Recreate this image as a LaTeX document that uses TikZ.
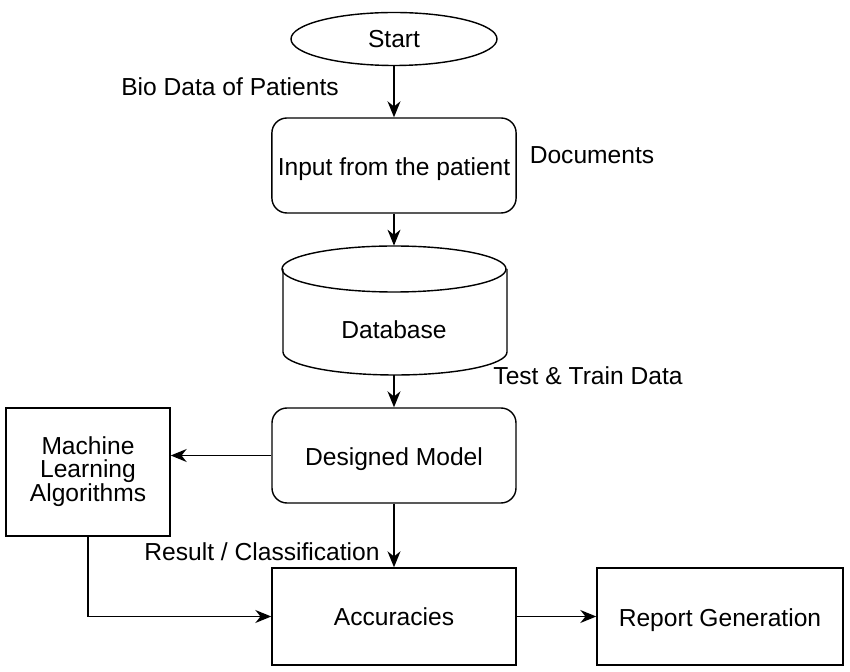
\documentclass[tikz,border=0pt]{standalone}
\usepackage{fontspec}
\setmainfont{Liberation Sans}
\usetikzlibrary{arrows.meta,shapes.geometric}
\tikzset{
  stepbox/.style={draw, thick, rounded corners=0.3cm, minimum width=4.88cm, minimum height=1.9cm, text height=14pt, text depth=3pt},
  plainbox/.style={draw, thick, minimum width=4.88cm, minimum height=1.94cm},
  flow/.style={thick, -{Stealth[length=3.2mm, width=2.6mm]}}
}
\begin{document}
\begin{tikzpicture}[font=\fontsize{14}{16.5}\selectfont]
    \useasboundingbox (0,0) rectangle (17,13.42);
    \node[draw, thick, ellipse, minimum width=4.12cm, minimum height=1.06cm] (start) at (7.88,12.64){Start};
    \node[stepbox] (input) at (7.88,10.11){Input from the patient};
    % database cylinder
    \draw[thick] (5.66,8.04) -- (5.66,6.38) arc[start angle=180, end angle=360, x radius=2.24, y radius=0.46] -- (10.14,8.04);
    \draw[thick] (7.88,8.04) ellipse[x radius=2.24, y radius=0.46];
    \node[minimum width=4.48cm, minimum height=2.58cm] (db) at (7.88,7.21){};
    \node (dbtext) at (7.88,6.82){Database};
    \node[stepbox] (model) at (7.88,4.31){Designed Model};
    \node[draw, thick, minimum width=3.28cm, minimum height=2.56cm, align=center, font=\fontsize{14}{12.8}\selectfont] (ml) at (1.76,3.98){Machine\\Learning\\Algorithms};
    \node[plainbox] (acc) at (7.88,1.09){Accuracies};
    \node[plainbox, minimum width=4.92cm, text height=14pt, text depth=3pt] (report) at (14.4,1.09){Report Generation};
    \node (bio) at (4.6,11.68){Bio Data of Patients};
    \node (docs) at (11.84,10.32){Documents};
    \node (tt) at (11.76,5.9){Test \& Train Data};
    \node (res) at (5.24,2.38){Result / Classification};
    \draw[flow] (start) -- (input);
    \draw[flow] (input) -- (db.north);
    \draw[flow] (db.south) -- (model);
    \draw[flow] (model.west) -- (model.west -| ml.east);
    \draw[flow] (model) -- (acc);
    \draw[flow] (ml.south) |- (acc.west);
    \draw[flow] (acc) -- (report);
\end{tikzpicture}
\end{document}
